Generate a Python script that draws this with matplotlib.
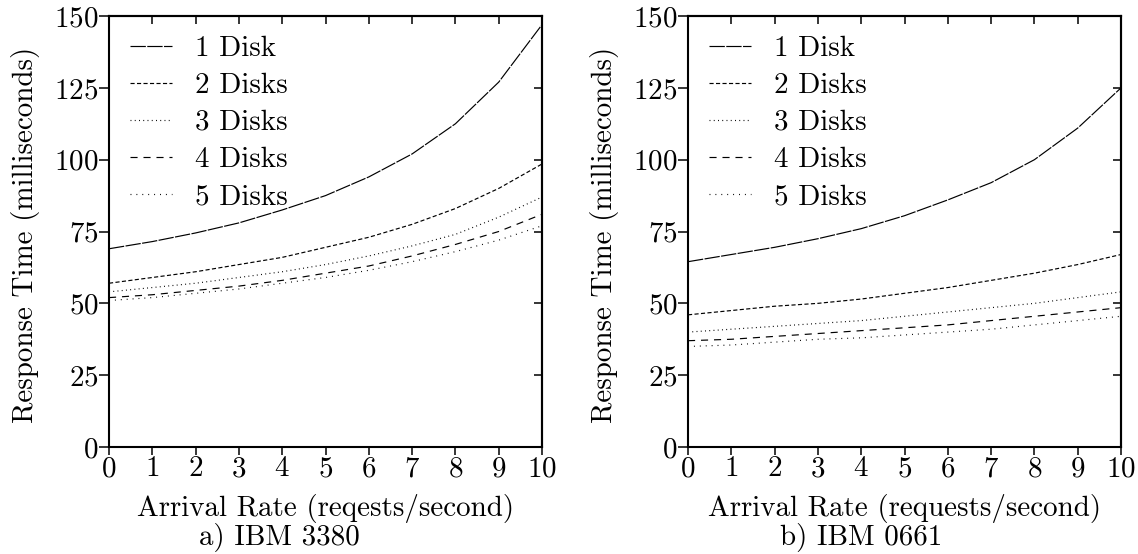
import matplotlib.pyplot as plt

plt.rcParams["font.family"] = "cmr10"
plt.rcParams["axes.formatter.use_mathtext"] = True
plt.rcParams["font.size"] = 20.9

rates = [0, 1, 2, 3, 4, 5, 6, 7, 8, 9, 10]
disk_labels = ["1 Disk", "2 Disks", "3 Disks", "4 Disks", "5 Disks"]

# IBM 3380, response time (ms) per arrival rate
ibm3380_1 = [69, 71.5, 74.5, 78, 82.5, 87.5, 94, 102, 112.5, 127, 147]
ibm3380_2 = [57, 59, 61, 63.5, 66, 69.5, 73, 77.5, 83, 90, 98.5]
ibm3380_3 = [54, 55.5, 57, 59, 61, 63.5, 66.5, 70, 74, 80, 87]
ibm3380_4 = [52, 53, 54.5, 56, 58, 60.5, 63, 66.5, 70.5, 75, 81]
ibm3380_5 = [51, 52, 53.5, 55, 57, 59, 61.5, 64.5, 68, 72, 77]

# IBM 0661
ibm0661_1 = [64.5, 67, 69.5, 72.5, 76, 80.5, 86, 92, 100, 111, 125]
ibm0661_2 = [46, 47.5, 49, 50, 51.5, 53.5, 55.5, 58, 60.5, 63.5, 67]
ibm0661_3 = [40, 41, 42, 43, 44, 45.5, 47, 48.5, 50, 52, 54]
ibm0661_4 = [37, 37.5, 38.5, 39.5, 40.5, 41.5, 42.5, 44, 45.5, 47, 48.5]
ibm0661_5 = [35, 35.5, 36.5, 37.5, 38, 39, 40, 41, 42.5, 44, 45.5]

# gnuplot-ish dash patterns
styles = [(0, (13, 1.2)), (0, (3.5, 2)), (0, (0.8, 2.8)), (0, (6, 5)), (0, (0.8, 4.2))]

panels = [
    ([ibm3380_1, ibm3380_2, ibm3380_3, ibm3380_4, ibm3380_5],
     "Arrival Rate (reqests/second)", "a) IBM 3380", 0.0958, 0.393),
    ([ibm0661_1, ibm0661_2, ibm0661_3, ibm0661_4, ibm0661_5],
     "Arrival Rate (requests/second)", "b) IBM 0661", 0.6046, 0.40),
]

fig = plt.figure(figsize=(11.38, 5.54), dpi=100)

for series, xlab, cap, left, cap_x in panels:
    ax = fig.add_axes([left, 0.1931, 0.3805, 0.778])
    for vals, lab, ls in zip(series, disk_labels, styles):
        ax.plot(rates, vals, color="black", lw=0.85, linestyle=ls, label=lab)
    ax.set_xlim(0, 10)
    ax.set_ylim(0, 150)
    ax.set_xticks(range(0, 11))
    ax.set_yticks(range(0, 151, 25))
    ax.tick_params(axis="y", direction="out", length=7, width=1.1, pad=0.5)
    ax.tick_params(axis="x", direction="out", length=5.8, width=1.1, pad=0.5)
    for s in ax.spines.values():
        s.set_linewidth(1.5)

    # mirrored ticks on top and right point inward
    top = ax.secondary_xaxis("top")
    top.set_xticks(range(0, 11))
    top.tick_params(direction="in", length=5.8, width=1.1, labeltop=False)
    right = ax.secondary_yaxis("right")
    right.set_yticks(range(0, 151, 25))
    right.tick_params(direction="in", length=5.8, width=1.1, labelright=False)
    top.spines["top"].set_linewidth(1.5)
    right.spines["right"].set_linewidth(1.5)

    ax.set_ylabel("Response Time (milliseconds)")
    ax.yaxis.set_label_coords(-0.194, 0.492)
    ax.yaxis.label.set_verticalalignment("center")
    ax.text(0.5, -0.1415, xlab, transform=ax.transAxes, ha="center", va="center")
    ax.text(cap_x, -0.209, cap, transform=ax.transAxes, ha="center", va="center")
    ax.legend(loc="upper left", frameon=False, handlelength=1.47, handletextpad=0.76,
              labelspacing=0.37, borderpad=0, borderaxespad=0,
              bbox_to_anchor=(0.048, 0.955))

fig.savefig("out.png", dpi=100)
